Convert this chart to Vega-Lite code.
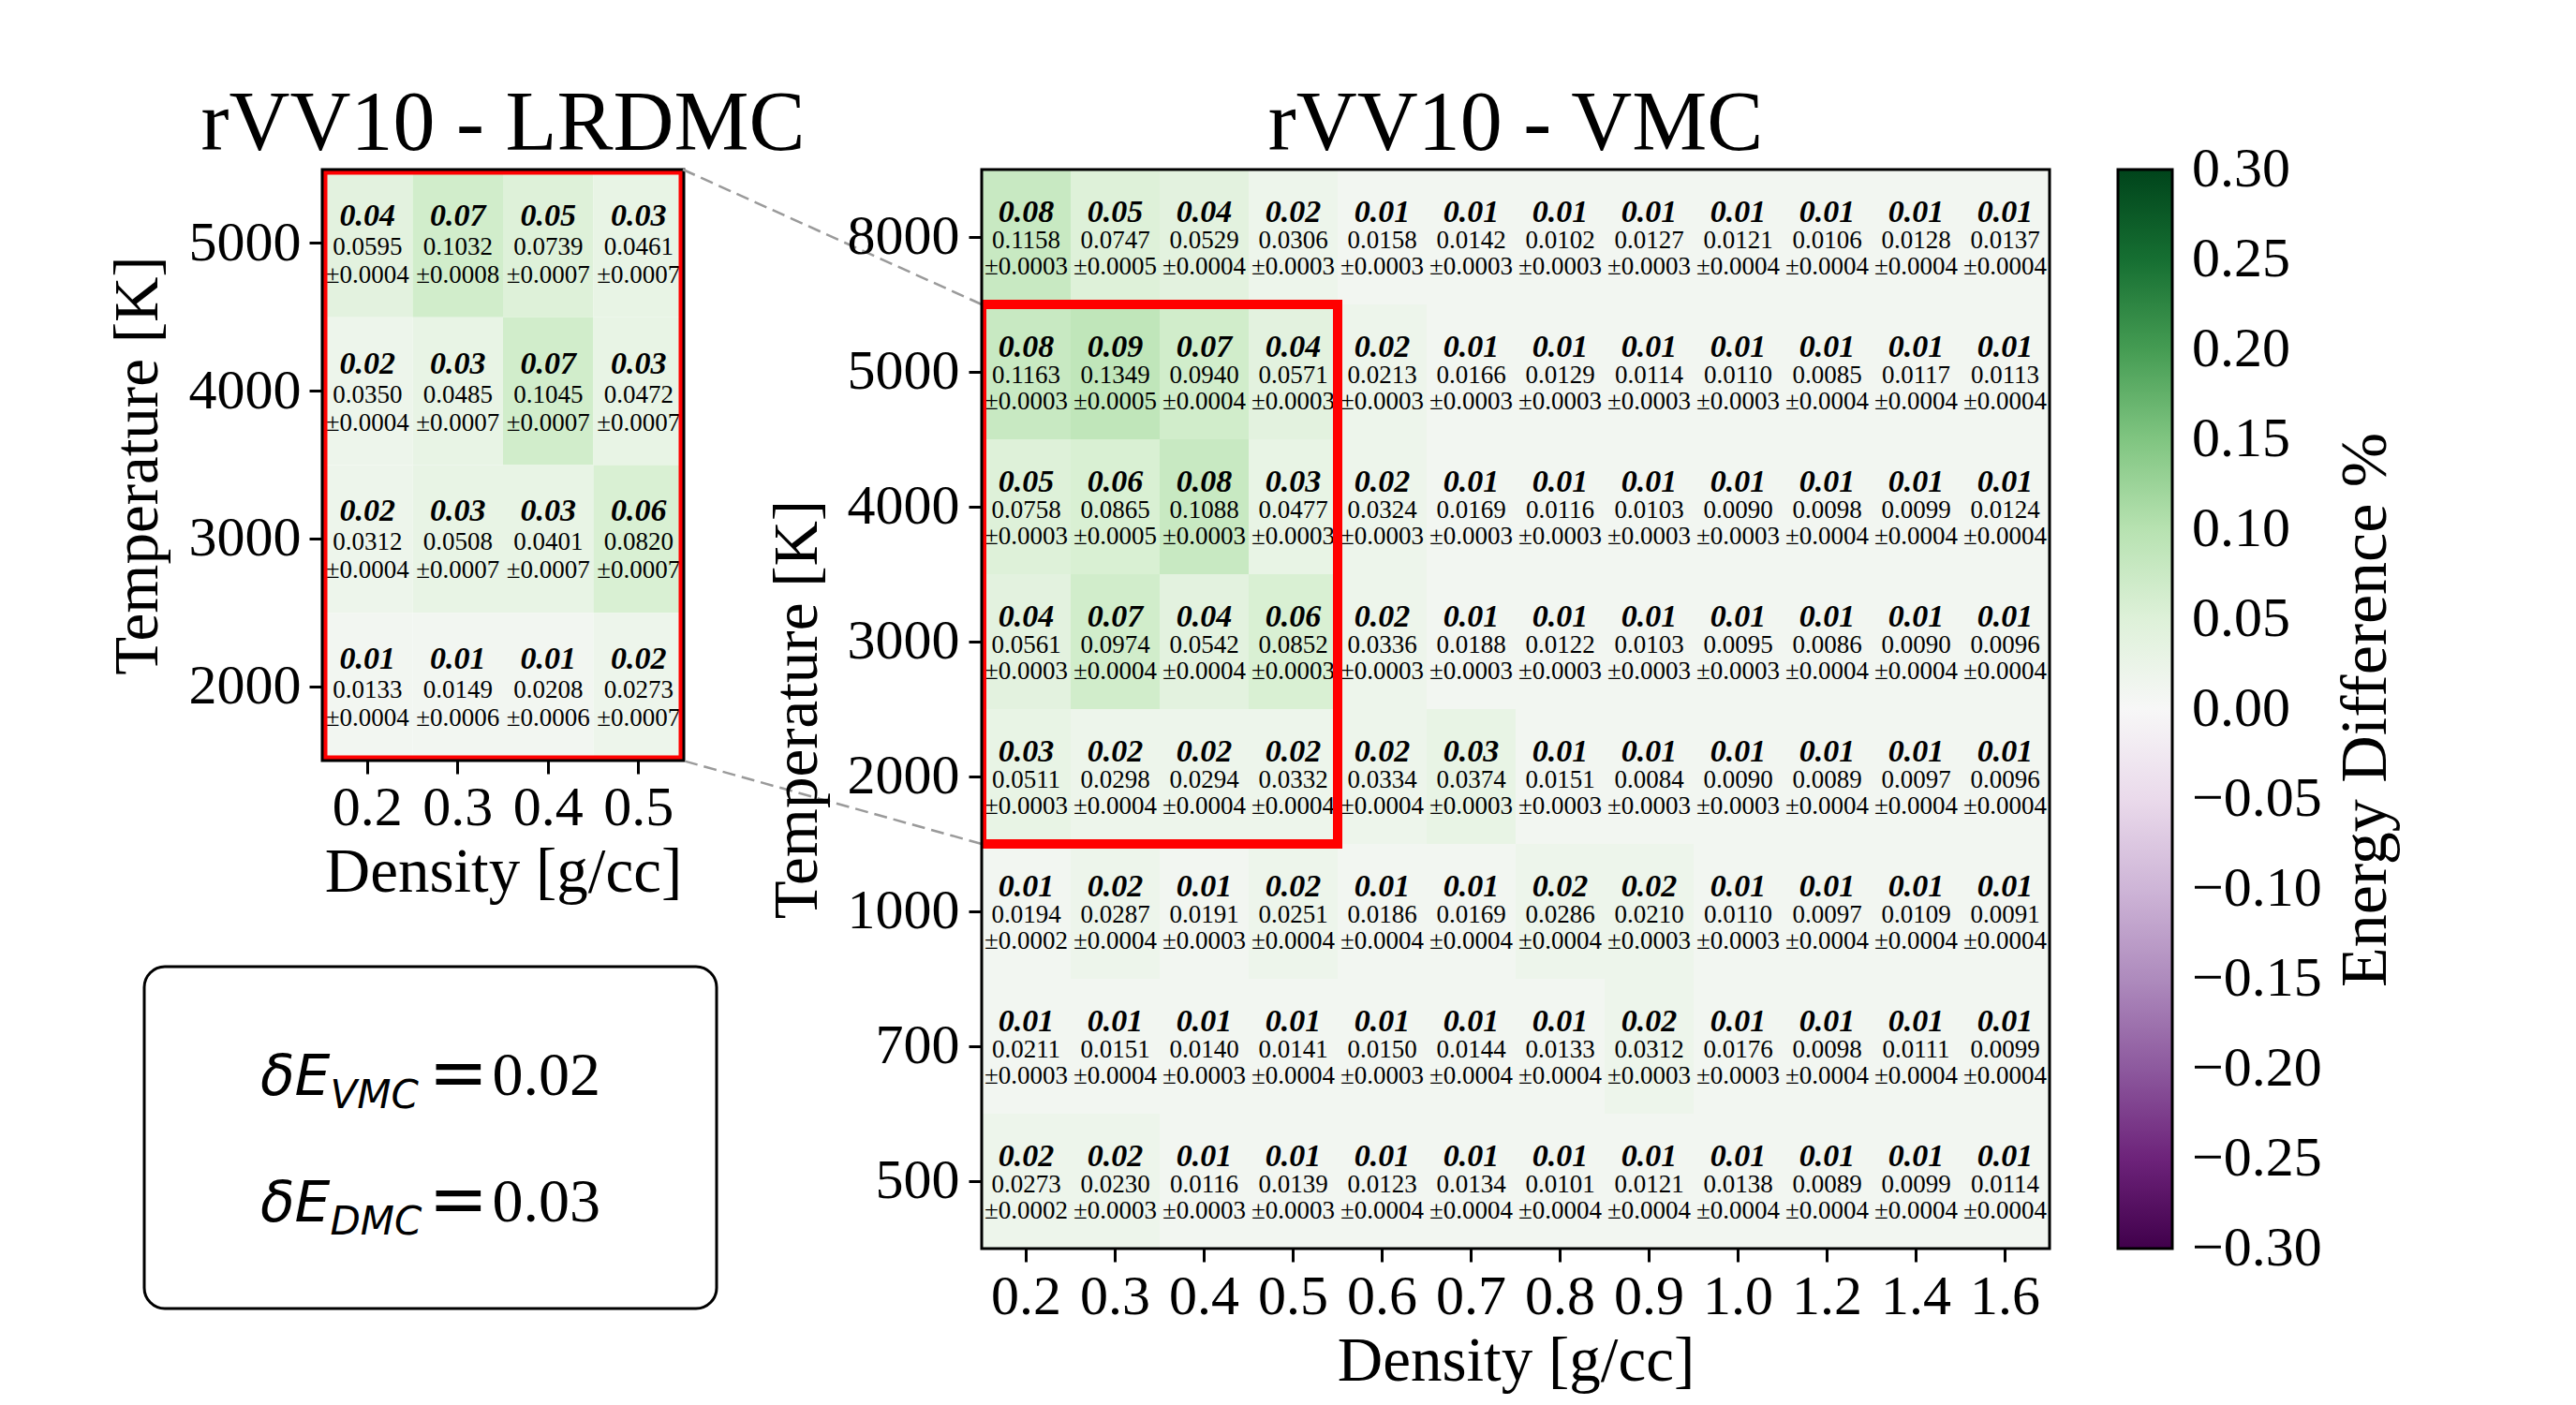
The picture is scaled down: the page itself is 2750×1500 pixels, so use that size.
{
 "$schema": "https://vega.github.io/schema/vega-lite/v6.json",
 "background": "white",
 "padding": {"left": 113, "top": 87, "right": 5, "bottom": 5},
 "config": {
  "view": {"stroke": null},
  "font": "Liberation Serif",
  "text": {"color": "black", "font": "Liberation Serif"},
  "axis": {"labelFont": "Liberation Serif", "titleFont": "Liberation Serif", "labelFontSize": 60, "titleFontSize": 67, "titleFontWeight": "normal", "labelColor": "black", "titleColor": "black", "domain": false, "tickColor": "black", "tickWidth": 3, "tickSize": 14, "grid": false, "labelAngle": 0},
  "axisX": {"labelPadding": 7, "titlePadding": 6},
  "axisY": {"labelPadding": 10, "titlePadding": 19},
  "title": {"font": "Liberation Serif", "fontSize": 90, "fontWeight": "normal", "color": "black", "anchor": "middle", "baseline": "alphabetic", "offset": 1, "frame": "group", "limit": 3000}
 },
 "datasets": {
  "box": [{"var": "VMC", "val": "0.02"}, {"var": "DMC", "val": "0.03"}],
  "dmc": [
   {"T": "5000", "d": "0.2", "b": 0.04, "v": "0.0595", "e": "±0.0004"},
   {"T": "5000", "d": "0.3", "b": 0.07, "v": "0.1032", "e": "±0.0008"},
   {"T": "5000", "d": "0.4", "b": 0.05, "v": "0.0739", "e": "±0.0007"},
   {"T": "5000", "d": "0.5", "b": 0.03, "v": "0.0461", "e": "±0.0007"},
   {"T": "4000", "d": "0.2", "b": 0.02, "v": "0.0350", "e": "±0.0004"},
   {"T": "4000", "d": "0.3", "b": 0.03, "v": "0.0485", "e": "±0.0007"},
   {"T": "4000", "d": "0.4", "b": 0.07, "v": "0.1045", "e": "±0.0007"},
   {"T": "4000", "d": "0.5", "b": 0.03, "v": "0.0472", "e": "±0.0007"},
   {"T": "3000", "d": "0.2", "b": 0.02, "v": "0.0312", "e": "±0.0004"},
   {"T": "3000", "d": "0.3", "b": 0.03, "v": "0.0508", "e": "±0.0007"},
   {"T": "3000", "d": "0.4", "b": 0.03, "v": "0.0401", "e": "±0.0007"},
   {"T": "3000", "d": "0.5", "b": 0.06, "v": "0.0820", "e": "±0.0007"},
   {"T": "2000", "d": "0.2", "b": 0.01, "v": "0.0133", "e": "±0.0004"},
   {"T": "2000", "d": "0.3", "b": 0.01, "v": "0.0149", "e": "±0.0006"},
   {"T": "2000", "d": "0.4", "b": 0.01, "v": "0.0208", "e": "±0.0006"},
   {"T": "2000", "d": "0.5", "b": 0.02, "v": "0.0273", "e": "±0.0007"}
  ],
  "vmc": [
   {"T": "8000", "d": "0.2", "b": 0.08, "v": "0.1158", "e": "±0.0003"},
   {"T": "8000", "d": "0.3", "b": 0.05, "v": "0.0747", "e": "±0.0005"},
   {"T": "8000", "d": "0.4", "b": 0.04, "v": "0.0529", "e": "±0.0004"},
   {"T": "8000", "d": "0.5", "b": 0.02, "v": "0.0306", "e": "±0.0003"},
   {"T": "8000", "d": "0.6", "b": 0.01, "v": "0.0158", "e": "±0.0003"},
   {"T": "8000", "d": "0.7", "b": 0.01, "v": "0.0142", "e": "±0.0003"},
   {"T": "8000", "d": "0.8", "b": 0.01, "v": "0.0102", "e": "±0.0003"},
   {"T": "8000", "d": "0.9", "b": 0.01, "v": "0.0127", "e": "±0.0003"},
   {"T": "8000", "d": "1.0", "b": 0.01, "v": "0.0121", "e": "±0.0004"},
   {"T": "8000", "d": "1.2", "b": 0.01, "v": "0.0106", "e": "±0.0004"},
   {"T": "8000", "d": "1.4", "b": 0.01, "v": "0.0128", "e": "±0.0004"},
   {"T": "8000", "d": "1.6", "b": 0.01, "v": "0.0137", "e": "±0.0004"},
   {"T": "5000", "d": "0.2", "b": 0.08, "v": "0.1163", "e": "±0.0003"},
   {"T": "5000", "d": "0.3", "b": 0.09, "v": "0.1349", "e": "±0.0005"},
   {"T": "5000", "d": "0.4", "b": 0.07, "v": "0.0940", "e": "±0.0004"},
   {"T": "5000", "d": "0.5", "b": 0.04, "v": "0.0571", "e": "±0.0003"},
   {"T": "5000", "d": "0.6", "b": 0.02, "v": "0.0213", "e": "±0.0003"},
   {"T": "5000", "d": "0.7", "b": 0.01, "v": "0.0166", "e": "±0.0003"},
   {"T": "5000", "d": "0.8", "b": 0.01, "v": "0.0129", "e": "±0.0003"},
   {"T": "5000", "d": "0.9", "b": 0.01, "v": "0.0114", "e": "±0.0003"},
   {"T": "5000", "d": "1.0", "b": 0.01, "v": "0.0110", "e": "±0.0003"},
   {"T": "5000", "d": "1.2", "b": 0.01, "v": "0.0085", "e": "±0.0004"},
   {"T": "5000", "d": "1.4", "b": 0.01, "v": "0.0117", "e": "±0.0004"},
   {"T": "5000", "d": "1.6", "b": 0.01, "v": "0.0113", "e": "±0.0004"},
   {"T": "4000", "d": "0.2", "b": 0.05, "v": "0.0758", "e": "±0.0003"},
   {"T": "4000", "d": "0.3", "b": 0.06, "v": "0.0865", "e": "±0.0005"},
   {"T": "4000", "d": "0.4", "b": 0.08, "v": "0.1088", "e": "±0.0003"},
   {"T": "4000", "d": "0.5", "b": 0.03, "v": "0.0477", "e": "±0.0003"},
   {"T": "4000", "d": "0.6", "b": 0.02, "v": "0.0324", "e": "±0.0003"},
   {"T": "4000", "d": "0.7", "b": 0.01, "v": "0.0169", "e": "±0.0003"},
   {"T": "4000", "d": "0.8", "b": 0.01, "v": "0.0116", "e": "±0.0003"},
   {"T": "4000", "d": "0.9", "b": 0.01, "v": "0.0103", "e": "±0.0003"},
   {"T": "4000", "d": "1.0", "b": 0.01, "v": "0.0090", "e": "±0.0003"},
   {"T": "4000", "d": "1.2", "b": 0.01, "v": "0.0098", "e": "±0.0004"},
   {"T": "4000", "d": "1.4", "b": 0.01, "v": "0.0099", "e": "±0.0004"},
   {"T": "4000", "d": "1.6", "b": 0.01, "v": "0.0124", "e": "±0.0004"},
   {"T": "3000", "d": "0.2", "b": 0.04, "v": "0.0561", "e": "±0.0003"},
   {"T": "3000", "d": "0.3", "b": 0.07, "v": "0.0974", "e": "±0.0004"},
   {"T": "3000", "d": "0.4", "b": 0.04, "v": "0.0542", "e": "±0.0004"},
   {"T": "3000", "d": "0.5", "b": 0.06, "v": "0.0852", "e": "±0.0003"},
   {"T": "3000", "d": "0.6", "b": 0.02, "v": "0.0336", "e": "±0.0003"},
   {"T": "3000", "d": "0.7", "b": 0.01, "v": "0.0188", "e": "±0.0003"},
   {"T": "3000", "d": "0.8", "b": 0.01, "v": "0.0122", "e": "±0.0003"},
   {"T": "3000", "d": "0.9", "b": 0.01, "v": "0.0103", "e": "±0.0003"},
   {"T": "3000", "d": "1.0", "b": 0.01, "v": "0.0095", "e": "±0.0003"},
   {"T": "3000", "d": "1.2", "b": 0.01, "v": "0.0086", "e": "±0.0004"},
   {"T": "3000", "d": "1.4", "b": 0.01, "v": "0.0090", "e": "±0.0004"},
   {"T": "3000", "d": "1.6", "b": 0.01, "v": "0.0096", "e": "±0.0004"},
   {"T": "2000", "d": "0.2", "b": 0.03, "v": "0.0511", "e": "±0.0003"},
   {"T": "2000", "d": "0.3", "b": 0.02, "v": "0.0298", "e": "±0.0004"},
   {"T": "2000", "d": "0.4", "b": 0.02, "v": "0.0294", "e": "±0.0004"},
   {"T": "2000", "d": "0.5", "b": 0.02, "v": "0.0332", "e": "±0.0004"},
   {"T": "2000", "d": "0.6", "b": 0.02, "v": "0.0334", "e": "±0.0004"},
   {"T": "2000", "d": "0.7", "b": 0.03, "v": "0.0374", "e": "±0.0003"},
   {"T": "2000", "d": "0.8", "b": 0.01, "v": "0.0151", "e": "±0.0003"},
   {"T": "2000", "d": "0.9", "b": 0.01, "v": "0.0084", "e": "±0.0003"},
   {"T": "2000", "d": "1.0", "b": 0.01, "v": "0.0090", "e": "±0.0003"},
   {"T": "2000", "d": "1.2", "b": 0.01, "v": "0.0089", "e": "±0.0004"},
   {"T": "2000", "d": "1.4", "b": 0.01, "v": "0.0097", "e": "±0.0004"},
   {"T": "2000", "d": "1.6", "b": 0.01, "v": "0.0096", "e": "±0.0004"},
   {"T": "1000", "d": "0.2", "b": 0.01, "v": "0.0194", "e": "±0.0002"},
   {"T": "1000", "d": "0.3", "b": 0.02, "v": "0.0287", "e": "±0.0004"},
   {"T": "1000", "d": "0.4", "b": 0.01, "v": "0.0191", "e": "±0.0003"},
   {"T": "1000", "d": "0.5", "b": 0.02, "v": "0.0251", "e": "±0.0004"},
   {"T": "1000", "d": "0.6", "b": 0.01, "v": "0.0186", "e": "±0.0004"},
   {"T": "1000", "d": "0.7", "b": 0.01, "v": "0.0169", "e": "±0.0004"},
   {"T": "1000", "d": "0.8", "b": 0.02, "v": "0.0286", "e": "±0.0004"},
   {"T": "1000", "d": "0.9", "b": 0.02, "v": "0.0210", "e": "±0.0003"},
   {"T": "1000", "d": "1.0", "b": 0.01, "v": "0.0110", "e": "±0.0003"},
   {"T": "1000", "d": "1.2", "b": 0.01, "v": "0.0097", "e": "±0.0004"},
   {"T": "1000", "d": "1.4", "b": 0.01, "v": "0.0109", "e": "±0.0004"},
   {"T": "1000", "d": "1.6", "b": 0.01, "v": "0.0091", "e": "±0.0004"},
   {"T": "700", "d": "0.2", "b": 0.01, "v": "0.0211", "e": "±0.0003"},
   {"T": "700", "d": "0.3", "b": 0.01, "v": "0.0151", "e": "±0.0004"},
   {"T": "700", "d": "0.4", "b": 0.01, "v": "0.0140", "e": "±0.0003"},
   {"T": "700", "d": "0.5", "b": 0.01, "v": "0.0141", "e": "±0.0004"},
   {"T": "700", "d": "0.6", "b": 0.01, "v": "0.0150", "e": "±0.0003"},
   {"T": "700", "d": "0.7", "b": 0.01, "v": "0.0144", "e": "±0.0004"},
   {"T": "700", "d": "0.8", "b": 0.01, "v": "0.0133", "e": "±0.0004"},
   {"T": "700", "d": "0.9", "b": 0.02, "v": "0.0312", "e": "±0.0003"},
   {"T": "700", "d": "1.0", "b": 0.01, "v": "0.0176", "e": "±0.0003"},
   {"T": "700", "d": "1.2", "b": 0.01, "v": "0.0098", "e": "±0.0004"},
   {"T": "700", "d": "1.4", "b": 0.01, "v": "0.0111", "e": "±0.0004"},
   {"T": "700", "d": "1.6", "b": 0.01, "v": "0.0099", "e": "±0.0004"},
   {"T": "500", "d": "0.2", "b": 0.02, "v": "0.0273", "e": "±0.0002"},
   {"T": "500", "d": "0.3", "b": 0.02, "v": "0.0230", "e": "±0.0003"},
   {"T": "500", "d": "0.4", "b": 0.01, "v": "0.0116", "e": "±0.0003"},
   {"T": "500", "d": "0.5", "b": 0.01, "v": "0.0139", "e": "±0.0003"},
   {"T": "500", "d": "0.6", "b": 0.01, "v": "0.0123", "e": "±0.0004"},
   {"T": "500", "d": "0.7", "b": 0.01, "v": "0.0134", "e": "±0.0004"},
   {"T": "500", "d": "0.8", "b": 0.01, "v": "0.0101", "e": "±0.0004"},
   {"T": "500", "d": "0.9", "b": 0.01, "v": "0.0121", "e": "±0.0004"},
   {"T": "500", "d": "1.0", "b": 0.01, "v": "0.0138", "e": "±0.0004"},
   {"T": "500", "d": "1.2", "b": 0.01, "v": "0.0089", "e": "±0.0004"},
   {"T": "500", "d": "1.4", "b": 0.01, "v": "0.0099", "e": "±0.0004"},
   {"T": "500", "d": "1.6", "b": 0.01, "v": "0.0114", "e": "±0.0004"}
  ]
 },
 "spacing": -133,
 "resolve": {"scale": {"color": "independent"}},
 "hconcat": [
  {
   "spacing": 66,
   "vconcat": [
    {
     "width": 386,
     "height": 631,
     "title": {"text": "rVV10 - LRDMC"},
     "layer": [
      {
       "data": {"name": "dmc"},
       "mark": {"type": "rect", "strokeWidth": 0},
       "encoding": {
        "x": {"field": "d", "type": "ordinal", "title": "Density [g/cc]", "scale": {"domain": ["0.2", "0.3", "0.4", "0.5"], "paddingInner": 0, "paddingOuter": 0}},
        "y": {"field": "T", "type": "ordinal", "title": "Temperature [K]", "scale": {"domain": ["5000", "4000", "3000", "2000"], "paddingInner": 0, "paddingOuter": 0}, "axis": {"labelPadding": 9, "titlePadding": 20}},
        "color": {"field": "b", "type": "quantitative", "legend": null, "scale": {"domain": [-0.3, -0.24, -0.18, -0.12, -0.06, 0, 0.06, 0.12, 0.18, 0.24, 0.3], "range": ["#40004b", "#762a83", "#9970ab", "#c2a5cf", "#e7d4e8", "#f7f7f7", "#d9f0d3", "#a6dba0", "#5aae61", "#1b7837", "#00441b"], "interpolate": "rgb"}}
       }
      },
      {
       "data": {"name": "dmc"},
       "mark": {"type": "text", "fontSize": 34, "fontWeight": "bold", "fontStyle": "italic", "baseline": "middle", "dy": -29},
       "encoding": {"x": {"field": "d", "type": "ordinal"}, "y": {"field": "T", "type": "ordinal"}, "text": {"field": "b", "type": "quantitative", "format": ".2f"}}
      },
      {
       "data": {"name": "dmc"},
       "mark": {"type": "text", "fontSize": 27, "baseline": "middle", "dy": 4},
       "encoding": {"x": {"field": "d", "type": "ordinal"}, "y": {"field": "T", "type": "ordinal"}, "text": {"field": "v"}}
      },
      {
       "data": {"name": "dmc"},
       "mark": {"type": "text", "fontSize": 27, "baseline": "middle", "dy": 34},
       "encoding": {"x": {"field": "d", "type": "ordinal"}, "y": {"field": "T", "type": "ordinal"}, "text": {"field": "e"}}
      },
      {
       "data": {"values": [{}]},
       "mark": {"type": "rect", "filled": false, "fill": null, "stroke": "red", "strokeWidth": 11, "clip": true},
       "encoding": {}
      },
      {
       "data": {"values": [{}]},
       "mark": {"type": "rect", "filled": false, "fill": null, "stroke": "black", "strokeWidth": 3},
       "encoding": {}
      }
     ]
    },
    {
     "width": 421,
     "height": 365,
     "layer": [
      {
       "data": {"values": [{}]},
       "mark": {"type": "rect", "fill": "white", "stroke": "black", "strokeWidth": 3, "cornerRadius": 22},
       "encoding": {
        "x": {"datum": 0, "type": "quantitative", "scale": {"domain": [0, 1], "range": [-190, 421]}, "axis": null},
        "x2": {"datum": 1}
       }
      },
      {
       "data": {"name": "box"},
       "mark": {"type": "text", "text": "δE", "font": "DejaVu Sans", "fontStyle": "italic", "fontSize": 60, "align": "right", "baseline": "alphabetic", "dx": -107, "dy": 22},
       "encoding": {"x": {"datum": 0.5, "type": "quantitative"}, "y": {"field": "var", "type": "nominal", "axis": null, "scale": {"type": "point", "domain": ["VMC", "DMC"], "padding": 0.852}}}
      },
      {
       "data": {"name": "box"},
       "mark": {"type": "text", "font": "DejaVu Sans", "fontStyle": "italic", "fontSize": 42, "align": "left", "baseline": "alphabetic", "dx": -107, "dy": 36},
       "encoding": {"x": {"datum": 0.5, "type": "quantitative"}, "y": {"field": "var", "type": "nominal"}, "text": {"field": "var"}}
      },
      {
       "data": {"name": "box"},
       "mark": {"type": "text", "text": "=", "font": "DejaVu Sans", "fontSize": 76, "align": "left", "baseline": "alphabetic", "dx": -2, "dy": 24},
       "encoding": {"x": {"datum": 0.5, "type": "quantitative"}, "y": {"field": "var", "type": "nominal"}}
      },
      {
       "data": {"name": "box"},
       "mark": {"type": "text", "font": "Liberation Serif", "fontSize": 66, "align": "left", "baseline": "alphabetic", "dx": 66, "dy": 22},
       "encoding": {"x": {"datum": 0.5, "type": "quantitative"}, "y": {"field": "var", "type": "nominal"}, "text": {"field": "val"}}
      }
     ]
    }
   ]
  },
  {
   "width": 1140,
   "height": 1152,
   "title": {"text": "rVV10 - VMC"},
   "layer": [
    {
     "data": {"name": "vmc"},
     "mark": {"type": "rect", "strokeWidth": 0},
     "encoding": {
      "x": {"field": "d", "type": "ordinal", "title": "Density [g/cc]", "scale": {"domain": ["0.2", "0.3", "0.4", "0.5", "0.6", "0.7", "0.8", "0.9", "1.0", "1.2", "1.4", "1.6"], "paddingInner": 0, "paddingOuter": 0}, "axis": {"labelPadding": 8}},
      "y": {"field": "T", "type": "ordinal", "title": "Temperature [K]", "scale": {"domain": ["8000", "5000", "4000", "3000", "2000", "1000", "700", "500"], "paddingInner": 0, "paddingOuter": 0}, "axis": {"labelPadding": 10, "titlePadding": 19}},
      "color": {
       "field": "b", "type": "quantitative",
       "scale": {"domain": [-0.3, -0.24, -0.18, -0.12, -0.06, 0, 0.06, 0.12, 0.18, 0.24, 0.3], "range": ["#40004b", "#762a83", "#9970ab", "#c2a5cf", "#e7d4e8", "#f7f7f7", "#d9f0d3", "#a6dba0", "#5aae61", "#1b7837", "#00441b"], "interpolate": "rgb"},
       "legend": {"orient": "right", "offset": 73, "direction": "vertical", "padding": 0, "gradientLength": 1152, "gradientThickness": 58, "gradientStrokeColor": "black", "gradientStrokeWidth": 3, "values": [0.3, 0.25, 0.2, 0.15, 0.1, 0.05, 0, -0.05, -0.1, -0.15, -0.2, -0.25, -0.3], "format": ".2f", "labelFont": "Liberation Serif", "labelFontSize": 60, "labelColor": "black", "labelOffset": 21, "labelBaseline": "middle", "labelOverlap": false, "labelLimit": 400, "title": "Energy Difference %", "titleFont": "Liberation Serif", "titleFontSize": 70, "titleFontWeight": "normal", "titleColor": "black", "titleOrient": "right", "titleAnchor": "middle", "titleBaseline": "top", "titlePadding": 13, "titleLimit": 2000,
        "encode": {"labels": {"update": {"baseline": {"value": "middle"}}}, "title": {"update": {"angle": {"value": 270}}}}}
      }
     }
    },
    {
     "data": {"name": "vmc"},
     "mark": {"type": "text", "fontSize": 34, "fontWeight": "bold", "fontStyle": "italic", "baseline": "middle", "dy": -26},
     "encoding": {"x": {"field": "d", "type": "ordinal"}, "y": {"field": "T", "type": "ordinal"}, "text": {"field": "b", "type": "quantitative", "format": ".2f"}}
    },
    {
     "data": {"name": "vmc"},
     "mark": {"type": "text", "fontSize": 27, "baseline": "middle", "dy": 4},
     "encoding": {"x": {"field": "d", "type": "ordinal"}, "y": {"field": "T", "type": "ordinal"}, "text": {"field": "v"}}
    },
    {
     "data": {"name": "vmc"},
     "mark": {"type": "text", "fontSize": 27, "baseline": "middle", "dy": 32},
     "encoding": {"x": {"field": "d", "type": "ordinal"}, "y": {"field": "T", "type": "ordinal"}, "text": {"field": "e"}}
    },
    {
     "data": {"values": [{}]},
     "mark": {"type": "rect", "filled": false, "fill": null, "stroke": "red", "strokeWidth": 10, "clip": true},
     "encoding": {
      "x": {"datum": "0.2", "type": "ordinal", "bandPosition": 0},
      "x2": {"datum": "0.5", "bandPosition": 1},
      "y": {"datum": "5000", "type": "ordinal", "bandPosition": 0},
      "y2": {"datum": "2000", "bandPosition": 1}
     }
    },
    {
     "data": {"values": [{}]},
     "mark": {"type": "rule", "color": "#9a9a9a", "strokeWidth": 2.5, "strokeDash": [14, 7], "x2Offset": -319, "y2Offset": -144},
     "encoding": {
      "x": {"datum": "0.2", "type": "ordinal", "bandPosition": 0},
      "x2": {"datum": "0.2", "bandPosition": 0},
      "y": {"datum": "5000", "type": "ordinal", "bandPosition": 0},
      "y2": {"datum": "5000", "bandPosition": 0}
     }
    },
    {
     "data": {"values": [{}]},
     "mark": {"type": "rule", "color": "#9a9a9a", "strokeWidth": 2.5, "strokeDash": [14, 7], "x2Offset": -319, "y2Offset": -89},
     "encoding": {
      "x": {"datum": "0.2", "type": "ordinal", "bandPosition": 0},
      "x2": {"datum": "0.2", "bandPosition": 0},
      "y": {"datum": "2000", "type": "ordinal", "bandPosition": 1},
      "y2": {"datum": "2000", "bandPosition": 1}
     }
    },
    {
     "data": {"values": [{}]},
     "mark": {"type": "rect", "filled": false, "fill": null, "stroke": "black", "strokeWidth": 3},
     "encoding": {}
    }
   ]
  }
 ]
}
